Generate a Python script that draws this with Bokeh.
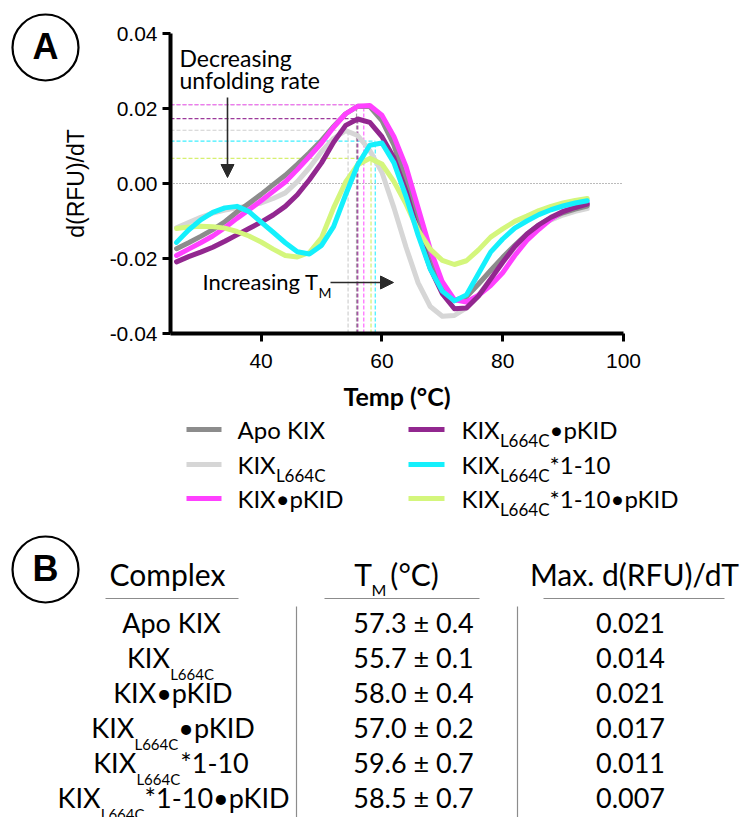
from bokeh.plotting import figure
from bokeh.layouts import column, row
from bokeh.models import Range1d, FixedTicker, NumeralTickFormatter, Arrow, NormalHead
from bokeh.embed import file_html
from bokeh.resources import INLINE
from bokeh.core.properties import value

# ---------------- data ----------------
temps = [26, 28, 30, 32, 34, 36, 38, 40, 42, 44, 46, 48, 50, 52, 54, 56, 58, 60,
         62, 64, 66, 68, 70, 72, 74, 76, 78, 80, 82, 84, 86, 88, 90, 92, 94]

apo_kix = [-0.0174, -0.0158, -0.0141, -0.0123, -0.0102, -0.0076, -0.0053, -0.0029, -0.0003, 0.0022,
           0.0051, 0.0082, 0.0115, 0.0152, 0.0186, 0.0206, 0.0205, 0.0168, 0.0102, 0.0007,
           -0.0098, -0.0194, -0.0274, -0.0312, -0.0302, -0.0268, -0.0232, -0.0197, -0.0165, -0.0135,
           -0.0111, -0.0092, -0.0078, -0.0068, -0.0060]

kix_l664c = [-0.0118, -0.0104, -0.0090, -0.0079, -0.0071, -0.0065, -0.0059, -0.0052, -0.0040, -0.0025,
             0.0005, 0.0042, 0.0085, 0.0120, 0.0141, 0.0128, 0.0088, 0.0030, -0.0065, -0.0170,
             -0.0265, -0.0328, -0.0354, -0.0352, -0.0332, -0.0298, -0.0255, -0.0210, -0.0170, -0.0138,
             -0.0115, -0.0097, -0.0084, -0.0074, -0.0067]

kix_pkid = [-0.0192, -0.0175, -0.0158, -0.0140, -0.0118, -0.0093, -0.0070, -0.0046, -0.0021, 0.0004,
            0.0037, 0.0072, 0.0108, 0.0150, 0.0186, 0.0206, 0.0208, 0.0182, 0.0125, 0.0045,
            -0.0065, -0.0175, -0.0262, -0.0310, -0.0316, -0.0298, -0.0272, -0.0238, -0.0192, -0.0152,
            -0.0122, -0.0095, -0.0074, -0.0062, -0.0052]

kix_l664c_pkid = [-0.0209, -0.0195, -0.0183, -0.0170, -0.0154, -0.0137, -0.0120, -0.0103, -0.0084, -0.0061,
                  -0.0030, 0.0010, 0.0055, 0.0110, 0.0155, 0.0172, 0.0163, 0.0125, 0.0068, -0.0020,
                  -0.0130, -0.0226, -0.0294, -0.0334, -0.0332, -0.0300, -0.0255, -0.0210, -0.0168, -0.0135,
                  -0.0110, -0.0090, -0.0075, -0.0064, -0.0055]

kix_l664c_110 = [-0.0157, -0.0124, -0.0097, -0.0077, -0.0065, -0.0061, -0.0075, -0.0103, -0.0130, -0.0158,
                 -0.0182, -0.0188, -0.0165, -0.0115, -0.0030, 0.0050, 0.0102, 0.0108, 0.0055, -0.0035,
                 -0.0138, -0.0228, -0.0287, -0.0313, -0.0297, -0.0240, -0.0183, -0.0148, -0.0119, -0.0100,
                 -0.0083, -0.0070, -0.0060, -0.0052, -0.0046]

kix_l664c_110_pkid = [-0.0120, -0.0116, -0.0114, -0.0115, -0.0119, -0.0128, -0.0140, -0.0156, -0.0175, -0.0192,
                      -0.0196, -0.0184, -0.0145, -0.0065, 0.0004, 0.0050, 0.0067, 0.0052, 0.0005, -0.0055,
                      -0.0125, -0.0175, -0.0205, -0.0216, -0.0206, -0.0177, -0.0143, -0.0121, -0.0101, -0.0087,
                      -0.0072, -0.0061, -0.0052, -0.0045, -0.0040]

# label pieces: (base, subscript, rest)
series_labels = [("Apo KIX", "", ""), ("KIX", "L664C", ""), ("KIX•pKID", "", ""),
                 ("KIX", "L664C", "•pKID"), ("KIX", "L664C", "*1-10"), ("KIX", "L664C", "*1-10•pKID")]

peak_temp = [55.8, 54.4, 57.0, 56.0, 58.9, 58.2]
peak_value = [0.0210, 0.0142, 0.0210, 0.0173, 0.0113, 0.0067]

table_tm = ["57.3 ± 0.4", "55.7 ± 0.1", "58.0 ± 0.4", "57.0 ± 0.2", "59.6 ± 0.7", "58.5 ± 0.7"]
table_max = ["0.021", "0.014", "0.021", "0.017", "0.011", "0.007"]

x_axis_start = 25
x_ticks = [40, 60, 80, 100]
y_ticks = [-0.04, -0.02, 0.0, 0.02, 0.04]

# ---------------- styles ----------------
series = [apo_kix, kix_l664c, kix_pkid, kix_l664c_pkid, kix_l664c_110, kix_l664c_110_pkid]
colors = ["#8c8c8c", "#d6d6d6", "#ff40ff", "#92278f", "#14f0fc", "#d4f67c"]
dash_colors = ["#a8a0a8", "#d0d0d0", "#ff66ff", "#9c3a9a", "#3ef0ff", "#d6f070"]
draw_order = [1, 0, 2, 3, 5, 4]

LATO = value("Lato")
ARIAL = value("Liberation Sans")

W_EM = {' ': 0.193, 'A': 0.68, 'B': 0.64, 'C': 0.664, 'D': 0.747, 'F': 0.53, 'I': 0.281, 'K': 0.665,
        'L': 0.522, 'M': 0.86, 'R': 0.62, 'T': 0.576, 'U': 0.714, 'X': 0.653, 'a': 0.49, 'c': 0.45,
        'd': 0.556, 'e': 0.515, 'g': 0.5, 'i': 0.232, 'l': 0.232, 'm': 0.82, 'n': 0.555, 'o': 0.556,
        'p': 0.55, 'r': 0.37, 's': 0.424, 't': 0.34, 'u': 0.555, 'x': 0.5, '.': 0.224, '-': 0.36,
        '*': 0.4, '•': 0.4, '(': 0.31, ')': 0.31, '/': 0.44, '°': 0.4, '±': 0.58}


def tw(s, size):
    return sum(W_EM.get(ch, 0.58) for ch in s) * size


# ---------------- geometry of the top canvas ----------------
W = 746
H1 = 414
FR_L, FR_R, FR_T, FR_B = 170, 623, 33, 333          # plot box in canvas pixels
x_lo, x_hi = x_axis_start, x_ticks[-1]
y_lo, y_hi = y_ticks[0], y_ticks[-1]
PX_T = (FR_R - FR_L) / (x_hi - x_lo)
PX_Y = (FR_B - FR_T) / (y_hi - y_lo)
X0 = x_lo - FR_L / PX_T
X1 = x_hi + (W - FR_R) / PX_T
Y0 = y_lo - (H1 - FR_B) / PX_Y
Y1 = y_hi + FR_T / PX_Y


def tx(px):
    return X0 + px / PX_T


def ty(py):
    return Y1 - py / PX_Y


# ---------------- chart (frame = whole canvas, axes pinned) ----------------
p = figure(width=W, height=H1, x_range=Range1d(X0, X1), y_range=Range1d(Y0, Y1),
           output_backend="svg", toolbar_location=None, min_border=0)
p.outline_line_color = None
p.grid.visible = False

for ax in (p.xaxis[0], p.yaxis[0]):
    ax.axis_line_width = 4
    ax.axis_line_color = "black"
    ax.major_tick_line_width = 3
    ax.major_tick_line_color = "black"
    ax.major_tick_out = 8
    ax.major_tick_in = 0
    ax.minor_tick_line_color = None
    ax.major_label_text_font = "Liberation Sans"
    ax.major_label_text_font_size = "21px"
    ax.major_label_text_color = "black"
    ax.axis_label_text_color = "black"
p.xaxis.fixed_location = y_lo
p.yaxis.fixed_location = x_lo
p.xaxis.bounds = (x_lo, x_hi)
p.yaxis.bounds = (y_lo, y_hi)
p.xaxis.major_label_standoff = 12
p.yaxis.major_label_standoff = 5
p.xaxis.ticker = FixedTicker(ticks=x_ticks)
p.yaxis.ticker = FixedTicker(ticks=y_ticks)
p.yaxis.formatter = NumeralTickFormatter(format="0.00")
p.xaxis.axis_label = "Temp (°C)"
p.xaxis.axis_label_text_font = "Lato"
p.xaxis.axis_label_text_font_style = "bold"
p.xaxis.axis_label_text_font_size = "25px"
p.xaxis.axis_label_standoff = 10
p.yaxis.axis_label = "d(RFU)/dT"
p.yaxis.axis_label_text_font = "Liberation Sans"
p.yaxis.axis_label_text_font_style = "normal"
p.yaxis.axis_label_text_font_size = "23px"
p.yaxis.axis_label_standoff = 18

# zero reference line
p.segment(x0=[x_lo], y0=[0], x1=[x_hi], y1=[0], line_color="#777777", line_width=1,
          line_dash="1 2")

n = len(peak_temp)
p.segment(x0=[x_lo] * n, y0=peak_value, x1=peak_temp, y1=peak_value, line_color=dash_colors,
          line_width=1.2, line_dash="4 2")
p.segment(x0=peak_temp, y0=[y_lo] * n, x1=peak_temp, y1=peak_value, line_color=dash_colors,
          line_width=1.2, line_dash="4 2")

for i in draw_order:
    p.line(temps, series[i], line_color=colors[i], line_width=5, line_cap="round",
           line_join="round")

p.text(x=[tx(179)], y=[ty(57.5)], text=["Decreasing"], text_font=LATO, text_font_size="23px",
       text_baseline="alphabetic", text_align="left")
p.text(x=[tx(179)], y=[ty(79)], text=["unfolding rate"], text_font=LATO, text_font_size="23px",
       text_baseline="alphabetic", text_align="left")
p.add_layout(Arrow(end=NormalHead(size=13, fill_color="#2a2a2a", line_color="#2a2a2a"),
                   x_start=tx(227), y_start=ty(97), x_end=tx(227), y_end=ty(177),
                   line_color="#2a2a2a", line_width=1.6))

p.text(x=[tx(202)], y=[ty(281)], text=["Increasing T"], text_font=LATO, text_font_size="22px",
       text_baseline="alphabetic", text_align="left")
p.text(x=[tx(318)], y=[ty(292)], text=["M"], text_font=LATO, text_font_size="14px",
       text_baseline="alphabetic", text_align="left")
p.add_layout(Arrow(end=NormalHead(size=13, fill_color="#2a2a2a", line_color="#2a2a2a"),
                   x_start=tx(330), y_start=ty(282), x_end=tx(393), y_end=ty(282),
                   line_color="#2a2a2a", line_width=1.6))

# panel letter A
p.scatter(x=[tx(45)], y=[ty(47)], size=66, marker="circle", fill_color=None,
          line_color="black", line_width=2.2)
p.text(x=[tx(45)], y=[ty(46)], text=["A"], text_font=ARIAL, text_font_style="bold",
       text_font_size="36px", text_align="center", text_baseline="alphabetic")

# ---------------- bottom: legend + table (pixel coordinates) ----------------
H2 = 817 - H1
fb = figure(width=W, height=H2, x_range=Range1d(0, W), y_range=Range1d(817, H1),
            x_axis_type=None, y_axis_type=None, min_border=0, output_backend="svg",
            toolbar_location=None)
fb.outline_line_color = None
fb.grid.visible = False


def txt(fig, x, yc, s, size, align="left", font=LATO, style="normal"):
    fig.text(x=[x], y=[yc], text=[s], text_font=font, text_font_size=f"{size}px",
             text_font_style=style, text_baseline="alphabetic", text_align=align, text_color="black")


def rich(fig, x, yc, parts, size, sub_size, sub_dc, align="left", gap=0.0):
    base, sub, rest = parts
    total = tw(base, size) + tw(sub, sub_size) + gap + tw(rest, size)
    x0 = x - total / 2 if align == "center" else x
    txt(fig, x0, yc, base, size)
    if sub:
        x1 = x0 + tw(base, size)
        txt(fig, x1, yc + sub_dc, sub, sub_size)
        if rest:
            txt(fig, x1 + tw(sub, sub_size) + gap, yc, rest, size)


leg_rows = [429, 464, 498]
leg_cols = [(186, 221, 237), (408, 444, 461)]
for i in range(6):
    c = i // 3
    r = i % 3
    x0, x1, xt = leg_cols[c]
    yc = leg_rows[r]
    fb.segment(x0=[x0], y0=[yc], x1=[x1], y1=[yc], line_color=colors[i], line_width=5)
    rich(fb, xt, yc, series_labels[i], 24, 17, 11)

# panel letter B
fb.scatter(x=[45], y=[569], size=66, marker="circle", fill_color=None, line_color="black",
           line_width=2.2)
txt(fb, 45, 568, "B", 36, align="center", font=ARIAL, style="bold")

# headers
txt(fb, 167, 573, "Complex", 30, align="center")
rich(fb, 400, 573, ("T", "M", " (°C)"), 30, 16, 16, align="center", gap=5)
txt(fb, 634, 573, "Max. d(RFU)/dT", 30, align="center")

line_col = "#8c8c8c"
fb.segment(x0=[105, 324, 543], y0=[598, 598, 598], x1=[238, 479, 724], y1=[598, 598, 598],
           line_color=line_col, line_width=1.2)
fb.segment(x0=[296, 517], y0=[606, 606], x1=[296, 517], y1=[817, 817],
           line_color=line_col, line_width=1.2)

row_centers = [622, 657, 692, 727, 762, 797]
for i in range(6):
    yc = row_centers[i]
    rich(fb, 170, yc, series_labels[i], 27, 15, 16, align="center")
    txt(fb, 413, yc, table_tm[i], 27, align="center")
    txt(fb, 630, yc, table_max[i], 27, align="center")

layout = column(row(p), fb)
open("out.html", "w").write(file_html(layout, INLINE))
